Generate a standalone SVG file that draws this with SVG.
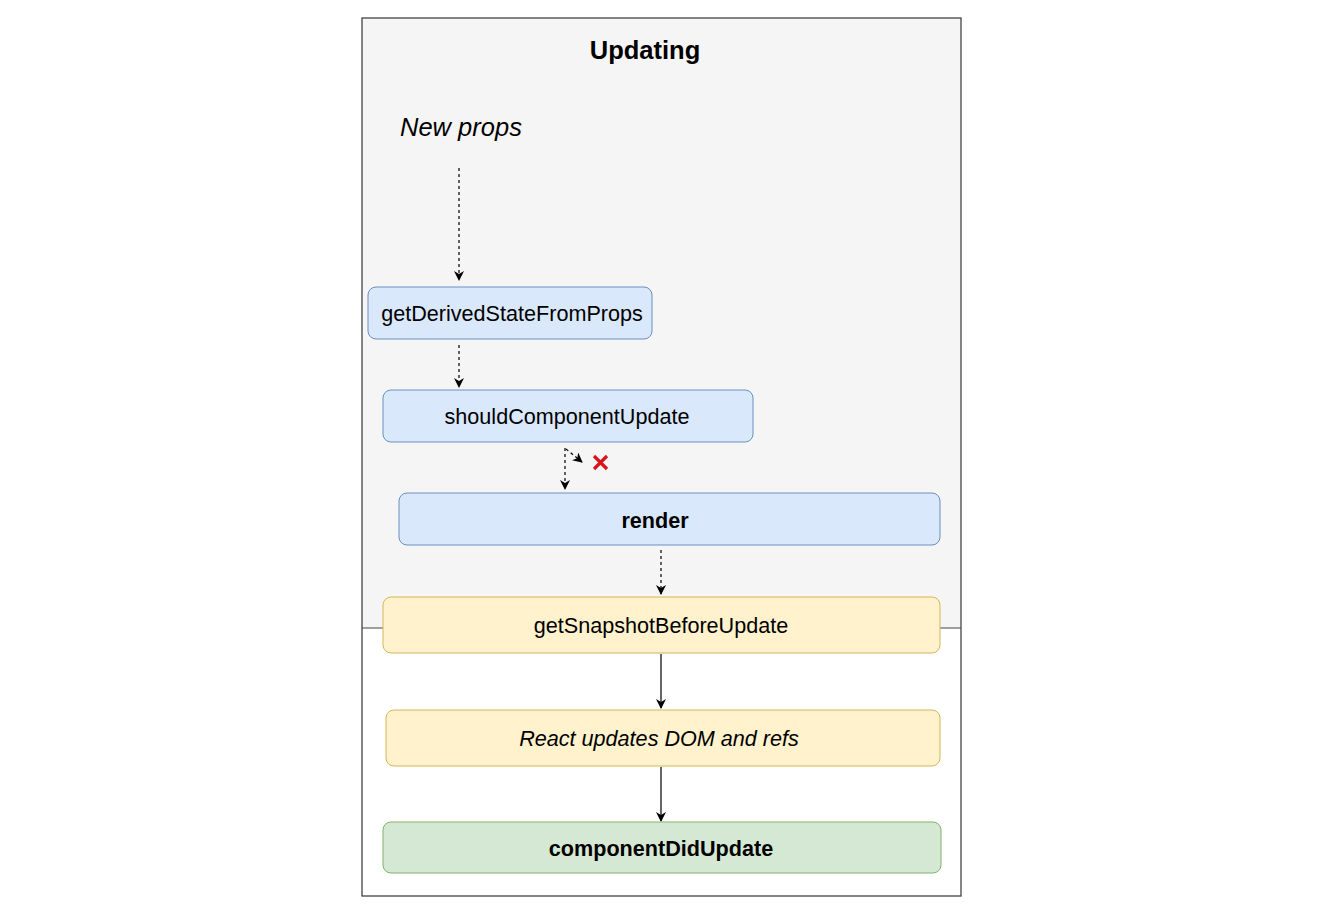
<svg xmlns="http://www.w3.org/2000/svg" width="1320" height="917" viewBox="0 0 1320 917">
  <style>
    text { font-family: "Liberation Sans", Arial, sans-serif; fill: #000; }
    .lbl { font-size: 21.6px; text-anchor: middle; dominant-baseline: central; }
    .bold { font-weight: bold; }
    .ital { font-style: italic; }
    .blue { fill: #dae8fc; stroke: #6c8ebf; stroke-width: 1; }
    .yellow { fill: #fff2cc; stroke: #d6b656; stroke-width: 1; }
    .green { fill: #d5e8d4; stroke: #82b366; stroke-width: 1; }
    .dash { stroke: #000; stroke-width: 1.2; stroke-dasharray: 3 3; fill: none; }
    .solid { stroke: #000; stroke-width: 1.2; fill: none; }
  </style>
  <defs>
    <marker id="arrow" viewBox="0 0 10 10" refX="9" refY="5" markerWidth="10" markerHeight="10" markerUnits="userSpaceOnUse" orient="auto">
      <path d="M0,0 L10,5 L0,10 L3,5 Z" fill="#000"/>
    </marker>
  </defs>
  <rect width="1320" height="917" fill="#fff"/>

  <!-- phase container -->
  <g id="container">
    <rect x="362" y="18" width="599" height="610" fill="#f5f5f5"/>
    <rect x="362" y="18" width="599" height="878" fill="none" stroke="#444" stroke-width="1.3"/>
    <line x1="362" y1="628" x2="961" y2="628" stroke="#444" stroke-width="1.2"/>
    <text x="645" y="50" class="lbl bold" style="font-size:25.5px">Updating</text>
  </g>

  <g id="new-props">
    <text x="400" y="127" class="ital" style="font-size:25.5px" dominant-baseline="central">New props</text>
  </g>

  <!-- connectors -->
  <g id="connectors">
    <line class="dash" x1="459" y1="168" x2="459" y2="280" marker-end="url(#arrow)"/>
    <line class="dash" x1="459" y1="345" x2="459" y2="387" marker-end="url(#arrow)"/>
    <line class="dash" x1="565" y1="448" x2="565" y2="489" marker-end="url(#arrow)"/>
    <line class="dash" x1="566" y1="449" x2="582" y2="462" marker-end="url(#arrow)"/>
    <line class="dash" x1="661" y1="550" x2="661" y2="594" marker-end="url(#arrow)"/>
    <line class="solid" x1="661" y1="654" x2="661" y2="708" marker-end="url(#arrow)"/>
    <line class="solid" x1="661" y1="767" x2="661" y2="821" marker-end="url(#arrow)"/>
  </g>

  <g id="no-update-mark">
    <path d="M594,456 L607,469 M607,456 L594,469" stroke="#d9141a" stroke-width="3.2" stroke-linecap="butt"/>
  </g>

  <g id="getDerivedStateFromProps">
    <rect class="blue" x="368" y="287" width="284" height="52" rx="8"/>
    <text x="512" y="313" class="lbl">getDerivedStateFromProps</text>
  </g>

  <g id="shouldComponentUpdate">
    <rect class="blue" x="383" y="390" width="370" height="52" rx="8"/>
    <text x="567" y="416" class="lbl">shouldComponentUpdate</text>
  </g>

  <g id="render">
    <rect class="blue" x="399" y="493" width="541" height="52" rx="8"/>
    <text x="655" y="520" class="lbl bold">render</text>
  </g>

  <g id="getSnapshotBeforeUpdate">
    <rect class="yellow" x="383" y="597" width="557" height="56" rx="8"/>
    <text x="661" y="625" class="lbl">getSnapshotBeforeUpdate</text>
  </g>

  <g id="reactUpdatesDom">
    <rect class="yellow" x="386" y="710" width="554" height="56" rx="8"/>
    <text x="659" y="738" class="lbl ital">React updates DOM and refs</text>
  </g>

  <g id="componentDidUpdate">
    <rect class="green" x="383" y="822" width="558" height="51" rx="8"/>
    <text x="661" y="848" class="lbl bold">componentDidUpdate</text>
  </g>
</svg>
